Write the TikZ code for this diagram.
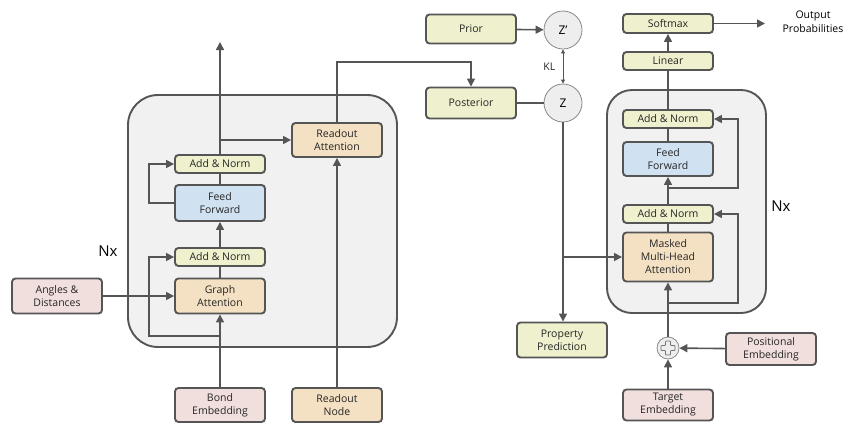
\documentclass[tikz,border=0pt]{standalone}
\usepackage{fontspec}
\setmainfont{Open Sans}
\usepackage{tikz}
\usetikzlibrary{arrows.meta, positioning, calc}

\definecolor{linegray}{HTML}{555555}
\definecolor{blockfill}{HTML}{F1F1F1}
\definecolor{yellowfill}{HTML}{EFF0CD}
\definecolor{bluefill}{HTML}{D0E2F2}
\definecolor{orangefill}{HTML}{F4E0C3}
\definecolor{pinkfill}{HTML}{F1DFDD}
\definecolor{circlefill}{HTML}{EEEEEE}

\tikzset{
    box/.style={draw=linegray, line width=1.9pt, rounded corners=3.5pt, minimum width=90pt,
        inner sep=0pt, align=center, font=\fontsize{10.5}{13}\selectfont, text=black!85},
    yellowbox/.style={box, fill=yellowfill},
    bluebox/.style={box, fill=bluefill},
    orangebox/.style={box, fill=orangefill},
    pinkbox/.style={box, fill=pinkfill},
    latent/.style={circle, draw=linegray!70, line width=0.8pt, fill=circlefill, minimum size=38pt,
        inner sep=0pt, font=\fontsize{12}{14}\selectfont},
    block/.style={draw=linegray, line width=1.9pt, fill=blockfill},
    conn/.style={draw=linegray, line width=1.6pt},
    arr/.style={conn, -{Triangle[length=8pt, width=8pt]}},
}

\begin{document}
\begin{tikzpicture}[x=1pt, y=-1pt]
    \useasboundingbox (0,0) rectangle (856,424);

    % Encoder and decoder blocks
    \draw[block, rounded corners=30pt] (128,95) rectangle (397,347);
    \draw[block, rounded corners=25pt] (607,90) rectangle (766,313);
    \node[font=\fontsize{15}{17}\selectfont] (nxleft) at (108,251) {Nx};
    \node[font=\fontsize{15}{17}\selectfont] (nxright) at (781,206) {Nx};

    % Graph encoder
    \node[pinkbox, minimum height=35pt] (angles) at (57,296) {Angles \&\\Distances};
    \node[orangebox, minimum height=35pt] (gatt) at (220,296) {Graph\\Attention};
    \node[yellowbox, minimum height=18pt] (addnorm1) at (220,257) {Add \& Norm};
    \node[bluebox, minimum height=36pt] (ffleft) at (220,203) {Feed\\Forward};
    \node[yellowbox, minimum height=18pt] (addnorm2) at (220,164) {Add \& Norm};
    \node[orangebox, minimum height=34pt] (ratt) at (337,140) {Readout\\Attention};
    \node[pinkbox, minimum height=34pt] (bond) at (220,405) {Bond\\Embedding};
    \node[orangebox, minimum height=34pt] (rnode) at (337,405) {Readout\\Node};

    % Latent part
    \node[yellowbox, minimum height=29pt] (prior) at (471,29) {Prior};
    \node[yellowbox, minimum height=31pt] (post) at (471,103) {Posterior};
    \node[latent] (zp) at (563,30) {Z'};
    \node[latent] (z) at (563,103) {Z};
    \node[yellowbox, minimum height=35pt] (prop) at (562,340) {Property\\Prediction};

    % Decoder
    \node[pinkbox, minimum height=31pt] (target) at (668,405) {Target\\Embedding};
    \node[pinkbox, minimum height=32pt] (posemb) at (771,349) {Positional\\Embedding};
    \node[circle, draw=linegray!70, line width=0.8pt, fill=circlefill, minimum size=22pt, inner sep=0pt] (plus) at (668,348) {};
    \node[orangebox, minimum height=49pt] (mmha) at (668,257) {Masked\\Multi-Head\\Attention};
    \node[yellowbox, minimum height=18pt] (addnorm3) at (668,214) {Add \& Norm};
    \node[bluebox, minimum height=34pt] (ffright) at (668,159) {Feed\\Forward};
    \node[yellowbox, minimum height=18pt] (addnorm4) at (668,119) {Add \& Norm};
    \node[yellowbox, minimum height=18pt] (linear) at (668,61) {Linear};
    \node[yellowbox, minimum height=19pt] (softmax) at (668,23.5) {Softmax};
    \node[align=center, font=\fontsize{10.5}{14}\selectfont] (outprob) at (813,22) {Output\\Probabilities};

    % plus sign
    \draw[linegray!80, line width=0.8pt, rounded corners=0.8pt, shift={(plus.center)}]
        (-2.5,-7) -- (2.5,-7) -- (2.5,-2.5) -- (7,-2.5) -- (7,2.5) -- (2.5,2.5) -- (2.5,7)
        -- (-2.5,7) -- (-2.5,2.5) -- (-7,2.5) -- (-7,-2.5) -- (-2.5,-2.5) -- cycle;

    % Encoder connections
    \coordinate (enctop) at (220,42);
    \coordinate (ressplit1) at (220,336);
    \coordinate (ressplit2) at (220,140);
    \coordinate (bend) at (337,62);
    \draw[arr] (bond) -- (gatt);
    \draw[arr] (angles) -- (gatt);
    \draw[conn] (gatt) -- (addnorm1);
    \draw[arr] (addnorm1) -- (ffleft);
    \draw[conn] (ffleft) -- (addnorm2);
    \draw[arr] (addnorm2) -- (enctop);
    \draw[arr] (ressplit1) -- (149,336) |- (addnorm1.west);
    \draw[arr] (ffleft.west) -- (149,203) |- (addnorm2.west);
    \draw[arr] (ressplit2) -- (ratt.west);
    \draw[arr] (rnode) -- (ratt);
    \draw[arr] (ratt.north) -- (bend) -| (post.north);

    % Latent connections
    \coordinate (zsplit) at (563,257);
    \draw[arr] (prior) -- (zp);
    \draw[conn] (post) -- (z);
    \draw[linegray, line width=0.8pt, {Triangle[length=4pt, width=4pt]}-{Triangle[length=4pt, width=4pt]}]
        (zp) -- (z) node[midway, left=4pt, font=\fontsize{10.5}{13}\selectfont, text=black!85] {KL};
    \draw[arr] (z.south) -- (z.south |- prop.north);
    \draw[arr] (zsplit) -- (mmha.west);

    % Decoder connections
    \coordinate (ressplit3) at (668,303);
    \coordinate (ressplit4) at (668,188);
    \draw[arr] (target) -- (plus);
    \draw[arr] (posemb) -- (plus);
    \draw[arr] (plus) -- (mmha);
    \draw[conn] (mmha) -- (addnorm3);
    \draw[arr] (addnorm3) -- (ffright);
    \draw[conn] (ffright) -- (addnorm4);
    \draw[conn] (addnorm4) -- (linear);
    \draw[arr] (linear) -- (softmax);
    \draw[arr] (softmax) -- (765,23.5);
    \draw[arr] (ressplit3) -- (738,303) |- (addnorm3.east);
    \draw[arr] (ressplit4) -- (738,188) |- (addnorm4.east);
\end{tikzpicture}
\end{document}
